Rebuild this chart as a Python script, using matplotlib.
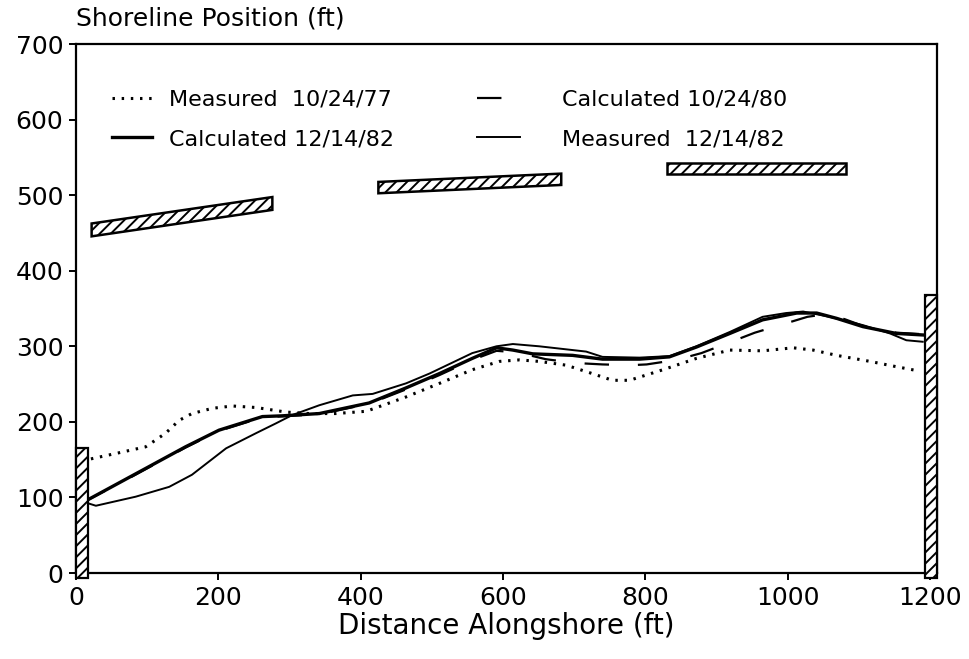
import matplotlib
matplotlib.use("Agg")
import matplotlib.pyplot as plt
from matplotlib.patches import Polygon, Rectangle

plt.rcParams['font.family'] = ['DejaVu Sans']
plt.rcParams['hatch.linewidth'] = 1.4

# ---- data ----
meas77_x = [21, 60, 98, 126, 145, 163, 192, 220, 253, 295, 328, 365, 408, 464, 511, 557, 595, 623, 651,
            689, 722, 754, 778, 825, 872, 919, 965, 1008, 1036, 1069, 1116, 1153, 1181]
meas77_y = [151, 159, 167, 185, 202, 211, 218, 221, 219, 213, 211, 211, 214, 233, 251, 269, 280, 282, 280,
            275, 265, 255, 255, 269, 284, 295, 294, 298, 295, 288, 280, 273, 268]

calc80_x = [11, 60, 107, 154, 201, 262, 342, 412, 464, 511, 557, 591, 620, 660, 700, 740, 780, 802, 844,
            879, 921, 954, 993, 1028, 1050, 1080, 1106, 1153, 1190]
calc80_y = [94, 118, 142, 166, 188, 206, 210, 224, 243, 262, 282, 294, 292, 283, 278, 276, 275, 276, 282,
            291, 306, 318, 329, 339, 342, 336, 327, 318, 316]

calc82_x = [11, 60, 107, 154, 201, 262, 290, 342, 412, 464, 511, 557, 591, 614, 642, 698, 740, 792, 834,
            872, 919, 965, 1013, 1041, 1069, 1106, 1153, 1190]
calc82_y = [94, 119, 143, 167, 189, 207, 208, 211, 225, 245, 264, 284, 298, 295, 290, 288, 283, 283, 286,
            299, 317, 335, 344, 344, 337, 326, 317, 315]

meas82_x = [11, 28, 84, 131, 163, 211, 253, 281, 304, 342, 389, 417, 464, 497, 557, 591, 614, 651, 717,
            740, 792, 834, 872, 919, 965, 998, 1022, 1059, 1106, 1144, 1167, 1190]
meas82_y = [94, 89, 101, 114, 130, 165, 185, 198, 209, 222, 235, 237, 251, 264, 291, 300, 303, 300, 293,
            286, 285, 287, 300, 319, 339, 344, 346, 339, 328, 317, 308, 306]

# breakwaters: x start, x end, centre y at start, centre y at end, thickness
bw_x0 = [22, 425, 830]
bw_x1 = [276, 682, 1082]
bw_y0 = [454, 510, 535]
bw_y1 = [489, 521, 535]
bw_t = [17, 15, 14]

# end walls: x left, width, bottom, top
wall_x = [0, 1193]
wall_w = [17, 17]
wall_bot = [-7, -7]
wall_top = [165, 368]

labels = ["Measured  10/24/77", "Calculated 10/24/80", "Calculated 12/14/82", "Measured  12/14/82"]
xticks = [0, 200, 400, 600, 800, 1000, 1200]
yticks = [0, 100, 200, 300, 400, 500, 600, 700]

# ---- figure ----
fig = plt.figure(figsize=(9.69, 6.59), dpi=100)
ax = fig.add_axes([0.0784, 0.1305, 0.8885, 0.8027])
ax.set_xlim(0, 1210)
ax.set_ylim(0, 700)

l1, = ax.plot(meas77_x, meas77_y, color='black', lw=2.2, linestyle=(0, (0.8, 2.2)), zorder=3)
l2, = ax.plot(calc80_x, calc80_y, color='black', lw=1.6, linestyle=(0, (11, 13)), zorder=2)
l3, = ax.plot(calc82_x, calc82_y, color='black', lw=2.4, zorder=4)
l4, = ax.plot(meas82_x, meas82_y, color='black', lw=1.4, zorder=5)

for x0, x1, y0, y1, t in zip(bw_x0, bw_x1, bw_y0, bw_y1, bw_t):
    poly = Polygon([(x0, y0 - t / 2), (x1, y1 - t / 2), (x1, y1 + t / 2), (x0, y0 + t / 2)],
                   closed=True, facecolor='white', edgecolor='black', lw=1.8, hatch='///', zorder=6)
    ax.add_patch(poly)

for x, w, b, t in zip(wall_x, wall_w, wall_bot, wall_top):
    r = Rectangle((x, b), w, t - b, facecolor='white', edgecolor='black', lw=1.6, hatch='///',
                  zorder=7, clip_on=False)
    ax.add_patch(r)

leg1 = ax.legend([l1, l3], [labels[0], labels[2]],
                 frameon=False, fontsize=16, handlelength=1.8, handletextpad=0.8,
                 labelspacing=0.86, loc='upper left',
                 bbox_to_anchor=(0.031, 0.93), borderaxespad=0)
ax.add_artist(leg1)
leg2 = ax.legend([l2, l4], [labels[1], labels[3]],
                 frameon=False, fontsize=16, handlelength=1.9, handletextpad=1.9,
                 labelspacing=0.86, loc='upper left',
                 bbox_to_anchor=(0.456, 0.93), borderaxespad=0)

for s in ax.spines.values():
    s.set_linewidth(1.6)
ax.set_xticks(xticks)
ax.set_yticks(yticks)
ax.tick_params(direction='out', length=5, width=1.4, labelsize=18, pad=4, top=False, right=False)
ax.set_xlabel("Distance Alongshore (ft)", fontsize=20, labelpad=2)
fig.text(0.078, 0.972, "Shoreline Position (ft)", fontsize=18, ha='left', va='center')

fig.savefig("out.png", dpi=100)
